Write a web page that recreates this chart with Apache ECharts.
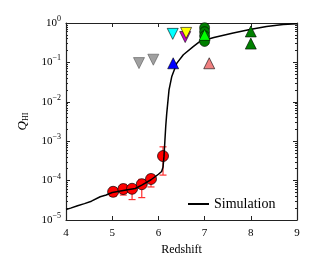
<!DOCTYPE html>
<html>
<head>
<meta charset="utf-8">
<script src="https://cdn.jsdelivr.net/npm/echarts@6/dist/echarts.min.js"></script>
<style>html,body{margin:0;padding:0;background:#fff;}#c{width:330px;height:256px;}</style>
</head>
<body>
<div id="c"></div>
<script>
// Simulation curve
const simZ = [4.00, 4.10, 4.25, 4.40, 4.55, 4.74, 4.87, 5.00, 5.15, 5.30, 5.50, 5.65, 5.84, 6.00, 6.07, 6.10, 6.12, 6.14, 6.16, 6.18, 6.23, 6.29, 6.40, 6.54, 6.76, 6.90, 7.20, 7.62, 7.98, 8.34, 8.70, 9.00];
const simQ = [1.85e-5, 2.0e-5, 2.3e-5, 2.6e-5, 3.0e-5, 3.9e-5, 4.3e-5, 5.0e-5, 5.4e-5, 5.8e-5, 6.3e-5, 7.8e-5, 1.05e-4, 1.45e-4, 1.7e-4, 2.2e-4, 4.0e-4, 1.0e-3, 2.5e-3, 5.0e-3, 0.020, 0.044, 0.096, 0.156, 0.254, 0.34, 0.43, 0.56, 0.68, 0.82, 0.91, 0.96];
// Red points with error bars
const redZ = [5.02, 5.24, 5.43, 5.64, 5.84, 6.10];
const redQ = [5.2e-5, 6.1e-5, 6.2e-5, 8.1e-5, 1.1e-4, 4.2e-4];
const redLo = [4.0e-5, 4.3e-5, 3.3e-5, 3.7e-5, 6.9e-5, 1.38e-4];
const redHi = [6.7e-5, 8.0e-5, 7.5e-5, 1.07e-4, 1.4e-4, 7.2e-4];
// Other constraints
const grayZ = [5.58, 5.89];   const grayQ = [0.096, 0.117];
const cyanZ = [6.31];         const cyanQ = [0.53];
const magZ = [6.58];          const magQ = [0.44];
const yelZ = [6.60];          const yelQ = [0.56];
const blueZ = [6.32];         const blueQ = [0.095];
const pinkZ = [7.10];         const pinkQ = [0.095];
const dgCircZ = [7.0, 7.0, 7.0, 7.0]; const dgCircQ = [0.76, 0.6, 0.47, 0.34];
const limeZ = [7.0];          const limeQ = [0.50];
const dgTriZ = [8.0, 8.0];    const dgTriQ = [0.61, 0.30];
// Axis ticks
const xTicks = [4, 5, 6, 7, 8, 9];
const yMajor = [1e-5, 1e-4, 1e-3, 1e-2, 1e-1, 1];
const yMinor = [];
for (let e = -5; e < 0; e++) for (let m = 2; m <= 9; m++) yMinor.push(+(m * Math.pow(10, e)).toPrecision(3));

const zip = (a, b) => a.map((v, i) => [v, b[i]]);
const FONT = 'Liberation Serif';
const AX = '#222';

function tri(name, zs, qs, color, down, border) {
  return {
    name: name, type: 'scatter', data: zip(zs, qs), symbol: 'triangle', symbolSize: 11,
    symbolRotate: down ? 180 : 0, z: 6,
    itemStyle: { color: color, borderColor: border || '#000', borderWidth: 0.6, opacity: 1 },
    xAxisIndex: 0, yAxisIndex: 0
  };
}

const chart = echarts.init(document.getElementById('c'), null, { renderer: 'canvas' });
const grid = { left: 66, right: 33, top: 23, bottom: 36, containLabel: false, outerBoundsMode: 'none' };
chart.setOption({
  animation: false,
  backgroundColor: '#fff',
  grid: grid,
  legend: {
    data: [{ name: 'Simulation', icon: 'rect' }],
    left: 183, top: 192, itemWidth: 21, itemHeight: 2, itemGap: 8,
    textStyle: { fontFamily: FONT, fontSize: 14, color: '#000' }
  },
  xAxis: [
    { type: 'value', min: 4, max: 9, interval: 1, position: 'bottom',
      name: 'Redshift', nameLocation: 'middle', nameGap: 24,
      nameTextStyle: { fontFamily: FONT, fontSize: 12, color: '#000' },
      axisLine: { lineStyle: { color: AX, width: 1.2 } },
      axisTick: { inside: true, length: 4, lineStyle: { color: AX } },
      axisLabel: { fontFamily: FONT, fontSize: 11, color: '#000', margin: 8 },
      splitLine: { show: false } },
    { type: 'value', min: 4, max: 9, interval: 1, position: 'top',
      axisLine: { lineStyle: { color: AX, width: 1.2 } },
      axisTick: { inside: true, length: 4, lineStyle: { color: AX } },
      axisLabel: { show: false }, splitLine: { show: false } }
  ],
  yAxis: [
    { type: 'log', logBase: 10, min: 1e-5, max: 1, position: 'left',
      name: 'Q{s|HI}', nameLocation: 'middle', nameGap: 36, nameRotate: 90,
      nameTextStyle: { fontFamily: FONT, fontSize: 13, fontStyle: 'italic', color: '#000',
        rich: { s: { fontFamily: FONT, fontSize: 8, fontStyle: 'normal', padding: [7, 0, 0, 0], color: '#000' } } },
      axisLine: { lineStyle: { color: AX, width: 1.2 } },
      axisTick: { inside: true, length: 4, customValues: yMajor, lineStyle: { color: AX } },
      axisLabel: { customValues: yMajor, margin: 5, fontFamily: FONT, fontSize: 11, color: '#000',
        formatter: function (v) { const e = Math.round(Math.log10(v)); return '10{s|' + (e < 0 ? '\u2212' + (-e) : e) + '}'; },
        rich: { s: { fontFamily: FONT, fontSize: 8, padding: [0, 0, 8, 0], color: '#000' } } },
      splitLine: { show: false } },
    { type: 'log', logBase: 10, min: 1e-5, max: 1, position: 'right',
      axisLine: { lineStyle: { color: AX, width: 1.2 } },
      axisTick: { inside: true, length: 4, customValues: yMajor, lineStyle: { color: AX } },
      axisLabel: { show: false }, splitLine: { show: false } },
    { type: 'log', logBase: 10, min: 1e-5, max: 1, position: 'left',
      axisLine: { show: false },
      axisTick: { inside: true, length: 2, customValues: yMinor, lineStyle: { color: AX } },
      axisLabel: { show: false }, splitLine: { show: false } },
    { type: 'log', logBase: 10, min: 1e-5, max: 1, position: 'right',
      axisLine: { show: false },
      axisTick: { inside: true, length: 2, customValues: yMinor, lineStyle: { color: AX } },
      axisLabel: { show: false }, splitLine: { show: false } }
  ],
  series: [
    { name: 'errors', type: 'custom', z: 2, xAxisIndex: 0, yAxisIndex: 0,
      data: redZ.map((z, i) => [z, redLo[i], redHi[i]]),
      renderItem: function (params, api) {
        const a = api.coord([api.value(0), api.value(1)]);
        const b = api.coord([api.value(0), api.value(2)]);
        const st = { stroke: '#ff3030', lineWidth: 1.2 };
        const w = 3.5;
        return { type: 'group', children: [
          { type: 'line', shape: { x1: a[0], y1: a[1], x2: b[0], y2: b[1] }, style: st },
          { type: 'line', shape: { x1: a[0] - w, y1: a[1], x2: a[0] + w, y2: a[1] }, style: st },
          { type: 'line', shape: { x1: b[0] - w, y1: b[1], x2: b[0] + w, y2: b[1] }, style: st }
        ] };
      } },
    { name: 'red', type: 'scatter', z: 3, data: zip(redZ, redQ), symbol: 'circle', symbolSize: 11,
      itemStyle: { color: '#ff0000', borderColor: '#000', borderWidth: 0.7, opacity: 1 } },
    { name: 'Simulation', type: 'line', z: 4, data: zip(simZ, simQ), symbol: 'none',
      lineStyle: { color: '#000', width: 1.5 }, itemStyle: { color: '#000' } },
    tri('gray', grayZ, grayQ, '#a0a0a0', true, '#555'),
    tri('cyan', cyanZ, cyanQ, '#00ffff', true),
    tri('magenta', magZ, magQ, '#cc00cc', true),
    tri('yellow', yelZ, yelQ, '#ffff00', true),
    tri('blue', blueZ, blueQ, '#0000ff', false),
    tri('pink', pinkZ, pinkQ, '#f08080', false),
    { name: 'dgc', type: 'scatter', z: 5, data: zip(dgCircZ, dgCircQ), symbol: 'circle', symbolSize: 10,
      itemStyle: { color: '#008000', borderColor: '#000', borderWidth: 0.6, opacity: 1 } },
    tri('lime', limeZ, limeQ, '#00ff00', false),
    tri('dgt', dgTriZ, dgTriQ, '#008000', false)
  ]
});
</script>
</body>
</html>
